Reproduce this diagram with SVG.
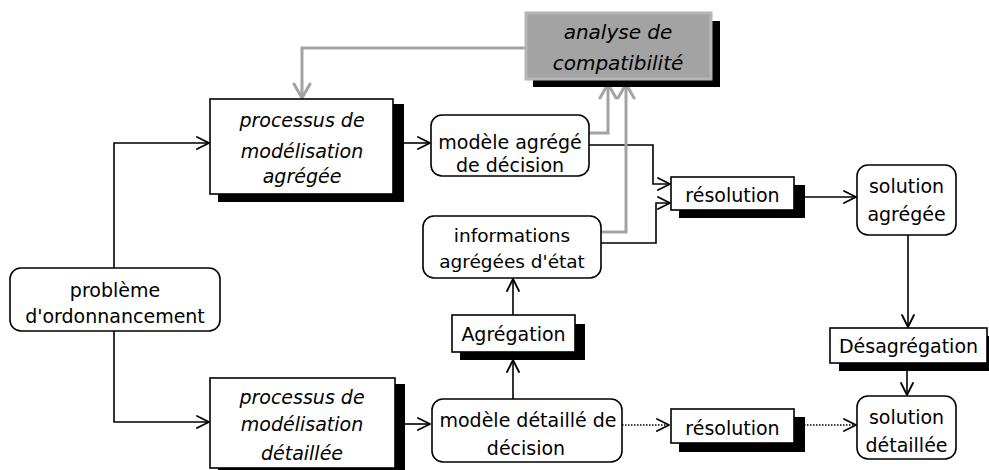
<svg xmlns="http://www.w3.org/2000/svg" width="989" height="470" viewBox="0 0 989 470">
<style>
.box{fill:#fff;stroke:#000;stroke-width:1.6}
.sh{fill:#000}
.t{font-family:"DejaVu Sans","Liberation Sans",sans-serif;font-size:19px;text-anchor:middle;fill:#000}
.i{font-style:italic}
.c{fill:none;stroke:#000;stroke-width:1.6}
.d{fill:none;stroke:#000;stroke-width:1.4;stroke-dasharray:1.5 1.5}
.g{fill:none;stroke:#a3a3a3;stroke-width:3}
</style>
<defs>
<marker id="a" markerUnits="userSpaceOnUse" markerWidth="16" markerHeight="16" refX="13" refY="7" orient="auto">
<path d="M1,1 L13,7 L1,13" fill="none" stroke="#000" stroke-width="1.8" stroke-linecap="round" stroke-linejoin="round"/>
</marker>
<marker id="ag" markerUnits="userSpaceOnUse" markerWidth="20" markerHeight="22" refX="16" refY="10" orient="auto">
<path d="M2,2 L16,10 L2,18" fill="none" stroke="#a3a3a3" stroke-width="3" stroke-linecap="round" stroke-linejoin="round"/>
</marker>
</defs>

<g id="connectors">
<path class="c" d="M114,268 V143 H209" marker-end="url(#a)"/>
<path class="c" d="M114,331 V422 H209" marker-end="url(#a)"/>
<path class="c" d="M400,143 H430" marker-end="url(#a)"/>
<path class="c" d="M400,424 H430" marker-end="url(#a)"/>
<path class="c" d="M589,145 H653 V184 H670" marker-end="url(#a)"/>
<path class="c" d="M597,243 H656 V203 H670" marker-end="url(#a)"/>
<path class="c" d="M804,197 H856" marker-end="url(#a)"/>
<path class="c" d="M908,227 V327" marker-end="url(#a)"/>
<path class="c" d="M907,371 V395" marker-end="url(#a)"/>
<path class="c" d="M513,399 V360" marker-end="url(#a)"/>
<path class="c" d="M513,315 V279" marker-end="url(#a)"/>
<path class="d" d="M622,425 H669" marker-end="url(#a)"/>
<path class="d" d="M804,425 H856" marker-end="url(#a)"/>
<path class="g" d="M525,48 H302 V98" marker-end="url(#ag)"/>
<path class="g" d="M589,133 H608 V84" marker-end="url(#ag)"/>
<path class="g" d="M597,232 H626 V84" marker-end="url(#ag)"/>
</g>

<g id="analyse">
<rect class="sh" x="533" y="21" width="187" height="66"/>
<rect x="526" y="13" width="185" height="66" fill="#a3a3a3" stroke="#b5b5b5" stroke-width="3"/>
<text class="t i" x="618" y="39" style="font-size:20px">analyse de</text>
<text class="t i" x="618" y="70" style="font-size:20px">compatibilité</text>
</g>

<g id="processus-agregee">
<rect class="sh" x="218" y="104" width="186" height="98"/>
<rect class="box" x="210" y="99" width="183" height="95"/>
<text class="t i" x="302" y="127">processus de</text>
<text class="t i" x="302" y="158">modélisation</text>
<text class="t i" x="302" y="183">agrégée</text>
</g>

<g id="modele-agrege">
<rect class="box" x="431" y="115" width="158" height="61" rx="11"/>
<text class="t" x="510" y="149">modèle agrégé</text>
<text class="t" x="510" y="172">de décision</text>
</g>

<g id="resolution-agregee">
<rect class="sh" x="679" y="185" width="126" height="33"/>
<rect class="box" x="671" y="177" width="123" height="33"/>
<text class="t" x="732.5" y="202">résolution</text>
</g>

<g id="solution-agregee">
<rect class="box" x="857" y="165" width="99" height="70" rx="11"/>
<text class="t" x="906.5" y="193">solution</text>
<text class="t" x="906.5" y="221">agrégée</text>
</g>

<g id="informations">
<rect class="box" x="423" y="216" width="178" height="62" rx="11"/>
<text class="t" x="512" y="242" style="font-size:18.5px">informations</text>
<text class="t" x="512" y="268" style="font-size:18.5px">agrégées d'état</text>
</g>

<g id="agregation">
<rect class="sh" x="460" y="324" width="125" height="36"/>
<rect class="box" x="452" y="315" width="123" height="37"/>
<text class="t" x="513.5" y="341">Agrégation</text>
</g>

<g id="probleme">
<rect class="box" x="10" y="268" width="210" height="63" rx="11"/>
<text class="t" x="115" y="297">problème</text>
<text class="t" x="115" y="323">d'ordonnancement</text>
</g>

<g id="processus-detaillee">
<rect class="sh" x="218" y="384" width="187" height="95"/>
<rect class="box" x="210" y="378" width="185" height="90"/>
<text class="t i" x="302" y="404">processus de</text>
<text class="t i" x="302" y="431">modélisation</text>
<text class="t i" x="302" y="460">détaillée</text>
</g>

<g id="modele-detaille">
<rect class="box" x="432" y="399" width="190" height="63" rx="11"/>
<text class="t" x="528" y="427">modèle détaillé de</text>
<text class="t" x="526" y="455">décision</text>
</g>

<g id="resolution-detaillee">
<rect class="sh" x="679" y="417" width="126" height="35"/>
<rect class="box" x="671" y="409" width="123" height="34"/>
<text class="t" x="732.5" y="435">résolution</text>
</g>

<g id="desagregation">
<rect class="sh" x="839" y="336" width="150" height="35"/>
<rect class="box" x="830" y="328" width="157" height="35"/>
<text class="t" x="908.5" y="353">Désagrégation</text>
</g>

<g id="solution-detaillee">
<rect class="box" x="857" y="396" width="99" height="63" rx="11"/>
<text class="t" x="906.5" y="424">solution</text>
<text class="t" x="906.5" y="452">détaillée</text>
</g>
</svg>
